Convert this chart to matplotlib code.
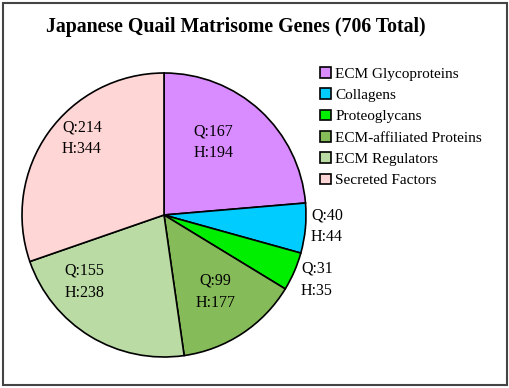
import numpy as np
import matplotlib
matplotlib.use("Agg")
import matplotlib.pyplot as plt
from matplotlib.patches import Patch, Rectangle

plt.rcParams['font.family'] = ['Liberation Serif', 'DejaVu Serif']

# data
categories = ["ECM Glycoproteins", "Collagens", "Proteoglycans",
              "ECM-affiliated Proteins", "ECM Regulators", "Secreted Factors"]
quail = [167, 40, 31, 99, 155, 214]
human = [194, 44, 35, 177, 238, 344]
colors = ["#D98CFF", "#00CCFF", "#00EE00", "#86BB5A", "#BADBA3", "#FFD6D6"]

# label placement (fraction of radius, angle in degrees)
label_pos = [(0.62, 56), (1.15, -4), (1.17, -23), (0.65, -56), (0.73, -140), (0.79, 137)]

W, H = 510, 388
fig = plt.figure(figsize=(W / 100, H / 100), dpi=100)
ax = fig.add_axes([0, 0, 1, 1])

cx, cy, r = 164, H - 215, 142
ax.pie(quail, colors=colors, startangle=90, counterclock=False,
       center=(cx, cy), radius=r,
       wedgeprops=dict(edgecolor="black", linewidth=1.2))
ax.set_xlim(0, W)
ax.set_ylim(0, H)
ax.set_aspect("equal")
ax.axis("off")

for q, h, (d, a) in zip(quail, human, label_pos):
    t = np.deg2rad(a)
    ax.text(cx + d * r * np.cos(t), cy + d * r * np.sin(t), f"Q:{q}\nH:{h}",
            ha="center", va="center", fontsize=11.5, linespacing=1.5)

ax.text(236, H - 27, "Japanese Quail Matrisome Genes (706 Total)",
        ha="center", va="center", fontsize=14.3, fontweight="bold")

handles = [Patch(facecolor=c, edgecolor="black", linewidth=1.2) for c in colors]
fig.legend(handles, categories, loc="upper left", bbox_to_anchor=(314 / W, 1 - 61 / H),
           frameon=False, fontsize=11, handlelength=0.7, handleheight=0.7,
           handletextpad=0.3, labelspacing=0.5, borderaxespad=0)

fig.patches.append(Rectangle((3 / W, 3 / H), 504 / W, 382 / H, transform=fig.transFigure,
                             fill=False, edgecolor="#444444", linewidth=1.5))

fig.savefig("out.png", dpi=100)
